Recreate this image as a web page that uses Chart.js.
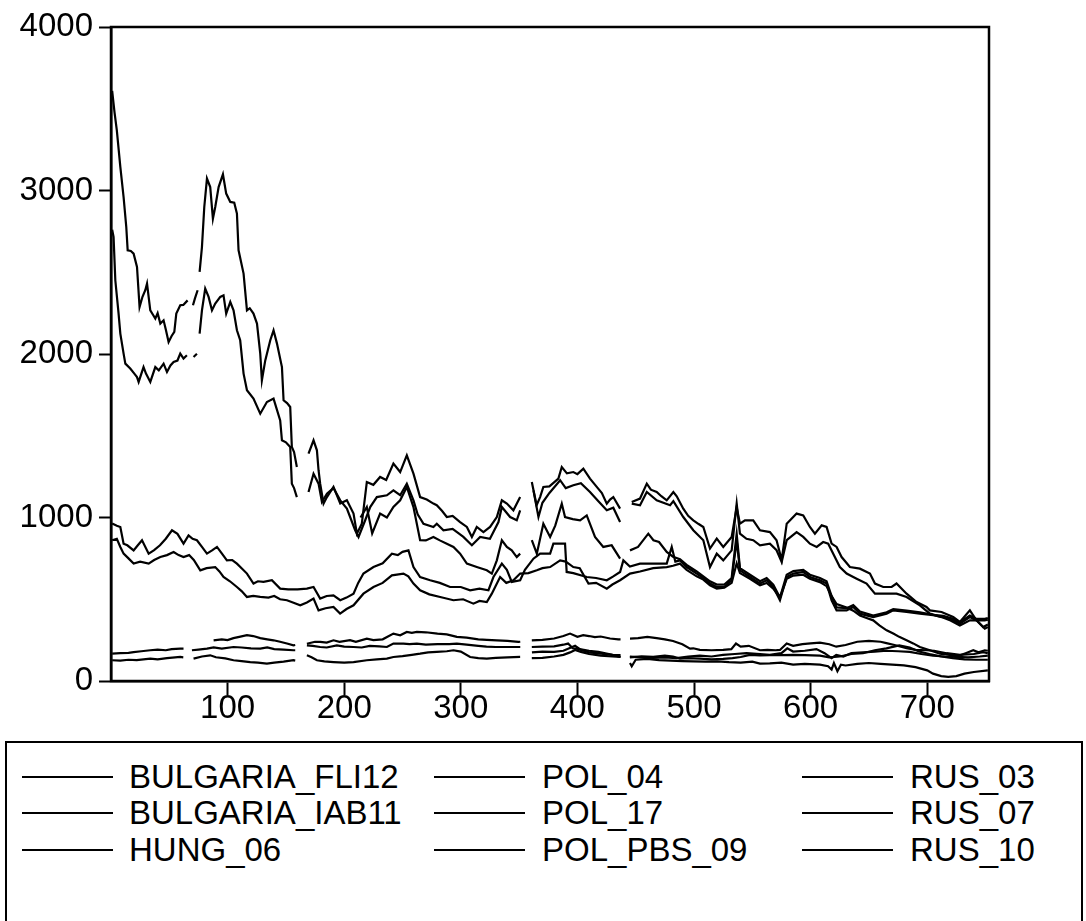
<!DOCTYPE html>
<html>
<head>
<meta charset="utf-8">
<script src="https://cdn.jsdelivr.net/npm/chart.js@4.4.1/dist/chart.umd.min.js"></script>
<style>
  html, body { margin: 0; padding: 0; background: #fff; }
  #wrap { position: relative; width: 1086px; height: 921px; overflow: hidden;
          font-family: "Liberation Sans", Arial, sans-serif; }
  #c { position: absolute; left: 0; top: 0; }
  #legend { position: absolute; left: 5px; top: 741px; width: 1078px; height: 200px;
            border: 2px solid #000; box-sizing: border-box; }
  .item { position: absolute; height: 36px; display: flex; align-items: center;
          font-size: 33px; color: #000; white-space: nowrap; }
  .item .ln { width: 91px; height: 0; border-top: 2px solid #000; }
  .item .tx { position: absolute; }
</style>
</head>
<body>
<div id="wrap">
  <canvas id="c" width="1086" height="730"></canvas>
  <div id="legend"></div>
</div>
<script>
// Observation index (x) and level (y); null marks a break in a series.
const bulgariaFli12 = [[1,3610],[3,3480],[5,3368],[8,3144],[10.8,2960],[13.1,2777],[14.3,2634],[17,2630],[19.4,2614],[22.3,2532],[24.5,2287],[27,2350],[29.4,2390],[30.9,2431],[33.7,2267],[36,2240],[38,2216],[40,2250],[42.3,2186],[45.1,2206],[47,2150],[49.4,2073],[52,2110],[54.3,2135],[56,2247],[59.4,2298],[62,2300],[65.7,2328],[68,null],[70.3,2298],[72,2340],[74.3,2390],[75.2,null],[76,2502],[78,2654],[80,2899],[82.3,3073],[85.1,3021],[87.4,2828],[89.4,2899],[92.3,3021],[96,3099],[98.8,2981],[102.3,2930],[105.7,2925],[108,2859],[109.4,2634],[113.7,2492],[116.6,2267],[119,2280],[122.2,2247],[125.2,2186],[128,2002],[129.4,1839],[132.3,1961],[136.6,2084],[139.4,2145],[142.3,2065],[146.6,1920],[148,1717],[151,1700],[153.7,1676],[155.1,1431],[157,1400],[159.4,1309],[164,null],[169.4,1391],[173.7,1472],[176.6,1411],[178,1289],[179.4,1207],[182.3,1085],[185.2,1125],[190.8,1187],[196.6,1085],[202.3,1105],[208,1024],[210.9,901],[215.1,962],[219.4,1217],[225,1200],[230.8,1248],[236,1230],[242.2,1330],[248,1278],[253.7,1380],[259.4,1268],[265.1,1125],[270.8,1110],[276.5,1085],[279.4,1075],[284,1040],[288,1003],[293,1010],[299.4,972],[305.2,942],[309.5,881],[313.7,942],[319.4,911],[325.1,942],[330.9,1003],[335.2,1105],[339.5,1085],[345.1,1044],[350.9,1125],[356,null],[360.9,1217],[365,1075],[368,1125],[370.8,1187],[376,1190],[383.7,1238],[386.6,1309],[391,1270],[396.5,1278],[400,1265],[405.1,1299],[410.8,1238],[416.6,1187],[421,1150],[425.2,1085],[428,1110],[430.8,1125],[436.6,1054],[441,null],[446.6,1095],[453.7,1116],[459.5,1207],[463,1170],[468,1156],[472,1130],[476.6,1105],[482.3,1156],[485.2,1130],[490.8,1054],[495,1010],[499.4,983],[504,960],[508,942],[513.7,810],[519.5,871],[525.1,820],[532.3,881],[536.6,1064],[539.4,962],[543.7,983],[550.8,983],[556.6,922],[565.1,911],[570.8,861],[575.2,740],[579.5,962],[588,1024],[593.7,1013],[599.4,942],[603.7,901],[609.5,952],[613.7,942],[618,840],[622.3,820],[626.6,758],[633.7,697],[642.3,687],[650.9,657],[655.2,596],[662.3,575],[669.5,575],[673.7,596],[682.3,534],[690.9,483],[699.4,453],[702.3,432],[712.3,422],[722.3,391],[728,361],[736.6,432],[742.3,371],[748,330],[752,345]];

const bulgariaIab11 = [[1,2760],[2.2,2716],[3.7,2451],[6.5,2247],[8,2125],[10.8,2002],[12.3,1941],[16.5,1911],[20,1880],[22.3,1859],[23.7,1829],[27.9,1920],[30,1880],[33.7,1829],[38,1920],[41,1900],[45.1,1941],[48,1890],[51,1930],[53.7,1951],[57,1960],[59.4,2002],[62.2,1972],[65.1,1992],[68,null],[70.8,1982],[73.7,2002],[75,null],[76,2125],[78,2267],[80.8,2400],[83.7,2349],[86.6,2267],[89.4,2308],[93.7,2349],[96.5,2359],[98.8,2247],[102.3,2318],[105.1,2267],[108,2145],[110.8,2084],[113.7,1880],[116.6,1778],[122.2,1727],[128,1635],[133.7,1706],[139.4,1727],[145.1,1594],[146.6,1472],[150,1460],[153.7,1431],[155.1,1207],[157,1180],[159.4,1125],[164,null],[169.4,1156],[173.7,1268],[178,1207],[180.9,1095],[185.2,1146],[190.8,1180],[196.6,1105],[202.3,1054],[209.4,922],[212.3,881],[218,983],[222.3,1064],[228,1125],[236.6,1136],[242.2,1166],[248,1136],[253.7,1207],[259.4,1105],[263,1020],[268,962],[276.5,942],[279.4,962],[285.1,922],[293,930],[302.2,881],[309.5,830],[316.6,881],[325,870],[332.3,972],[335.2,1064],[342.3,1003],[348,983],[350.9,1044],[356,null],[362.3,1166],[366.6,1003],[370,1090],[376,1150],[385.2,1228],[390,1180],[396.5,1197],[403,1210],[410.8,1156],[418,1100],[425.2,1044],[430.8,1060],[436.6,972],[441,null],[446.6,1085],[453.7,1075],[459.5,1156],[468,1105],[479.5,1075],[482.3,1100],[490.8,1003],[499.4,922],[508,861],[513.7,697],[519.5,779],[525.1,738],[532.3,799],[536.6,1085],[539.4,901],[545,870],[550.8,861],[556.6,830],[565.1,840],[570.8,800],[575.2,728],[579.5,861],[588,911],[593.7,881],[599.4,840],[605.2,820],[610.8,850],[615.1,840],[619.4,779],[625.1,697],[630.9,657],[639.5,626],[648,596],[655.2,534],[662.3,534],[673.7,534],[682.3,514],[693.7,463],[702.3,412],[712.3,391],[720,370],[728,340],[736.6,371],[742.3,371],[749.4,320],[752,330]];

const hung06 = [[88,249],[95,255],[100,250],[105,262],[110,270],[116.6,280],[122,275],[128,262],[134,255],[139.4,249],[145,240],[150.9,229],[156.5,218],[158,220],[163,null],[168,228],[175,240],[179.4,239],[185,235],[190.8,249],[196,240],[205,250],[210,240],[219.4,259],[225,250],[233,255],[242.2,290],[248,280],[253.7,300],[258,295],[262.3,300],[270,298],[280,290],[288,285],[296.6,270],[305,265],[315,255],[322.3,252],[330.9,249],[340,245],[349.4,239],[351,240],[356,null],[360.9,249],[370,252],[380,260],[388,275],[393.7,290],[400,270],[405,280],[410,275],[415,268],[420,272],[428,260],[435.1,255],[437,255],[441,null],[445.1,259],[452,262],[460,270],[468,262],[475,255],[482,245],[490,225],[496.6,198],[499.4,200],[505,190],[515,188],[525,190],[532,195],[536,229],[540,210],[547,215],[556.6,188],[563,190],[570,188],[573.7,190],[579.5,229],[585,215],[593,225],[600,230],[608,235],[616,225],[622,210],[630,220],[640,240],[650,245],[660,240],[665,232],[672,220],[682.3,200],[690,190],[699.4,188],[706,185],[716.6,170],[728,160],[740,165],[748,177],[752,170]];

const pol04 = [[1,963],[5,950],[8,942],[10.8,840],[14,830],[19.4,799],[23,830],[26.6,861],[32.3,779],[37,800],[42,830],[47,870],[52.3,922],[57,900],[62.2,840],[66.5,891],[70,870],[73.7,861],[78,820],[82.3,779],[87,800],[90.9,820],[95,780],[99.4,738],[104,740],[108,718],[112,690],[116.6,657],[122.2,596],[126,610],[130.8,606],[138,616],[145.1,565],[152,560],[160,560],[168,565],[173.7,575],[179.4,504],[185,520],[190.8,524],[196.6,494],[202,510],[208,534],[212,600],[216.5,657],[225.1,697],[233,720],[240.9,779],[246,770],[250,790],[255.1,799],[259.4,697],[265.1,636],[273.7,616],[282,600],[290.8,575],[300,575],[308,555],[316,565],[323.7,555],[328,636],[335.2,718],[339.5,680],[343.7,606],[350.9,616],[355,680],[362.3,748],[368,779],[376.6,779],[379.4,840],[389.4,840],[390.8,667],[396.5,660],[408,636],[416,630],[425.2,616],[430.8,640],[436.6,667],[439.4,738],[445,700],[453.7,718],[465,718],[476.6,718],[480.9,820],[484,730],[488,738],[493.7,697],[502.3,657],[508,630],[513.7,596],[519.5,575],[526,575],[532.3,616],[536.6,860],[539.4,677],[548,636],[556.6,596],[562.3,616],[568,575],[573.7,494],[579.5,636],[585.2,657],[593.7,667],[599.4,636],[608,616],[613.7,596],[618,494],[622.3,432],[630.9,432],[636.6,453],[642.3,412],[653.7,391],[665.2,412],[670.9,432],[682.3,422],[693.7,412],[705.1,402],[713.7,391],[722.3,371],[728,351],[736.6,391],[742.3,371],[749.4,371],[752,375]];

const pol17 = [[1,861],[5,870],[8,820],[10.8,779],[15,750],[19.4,718],[25,730],[32.3,718],[37,740],[42.3,758],[48,770],[53.7,789],[58,770],[62.2,758],[67,770],[71,740],[76.6,677],[82,690],[89.4,697],[93,670],[96.5,636],[102,610],[108,575],[112,550],[116.6,514],[122,520],[128,514],[135,510],[140,520],[145,500],[150.9,494],[156,480],[162.3,463],[168,480],[173.7,504],[178,432],[184,445],[190.8,453],[196.5,412],[202,440],[208,463],[216.5,534],[225.1,575],[233,600],[240.9,646],[250.8,657],[255,640],[259.4,596],[265.1,555],[273,530],[282.3,514],[293.7,494],[302,500],[310.8,473],[316,490],[322.3,483],[326.6,534],[333.7,636],[339,600],[345.1,616],[350.9,657],[358,660],[365.2,677],[370,690],[376.6,697],[385.2,738],[390,730],[396.5,697],[402,690],[409.5,596],[416,600],[425.2,565],[430,590],[436.6,616],[445.1,657],[453.7,670],[465,690],[476.6,697],[482,705],[488,718],[493.7,680],[502.3,640],[508,620],[513.7,585],[519.5,565],[526,570],[532.3,600],[536.6,720],[539.4,660],[548,625],[556.6,585],[562.3,600],[568,565],[573.7,510],[579.5,625],[585.2,645],[593.7,650],[599.4,625],[608,605],[613.7,580],[618,520],[622.3,470],[630.9,450],[636.6,430],[642.3,400],[648,385],[653.7,371],[659,340],[665.2,310],[670.9,290],[676,270],[682.3,249],[688,230],[693.7,208],[702.3,188],[710.9,167],[719,160],[728,157],[733,170],[739.5,188],[744,175],[749.4,188],[752,185]];

const polPbs09 = [[214,1000],[219.4,1064],[224,903],[230.8,1024],[236.6,1000],[242.2,1064],[248,1105],[253.7,1187],[259.4,1064],[265.1,861],[270,860],[276.5,881],[282,860],[288,840],[293.7,820],[299.4,779],[305.2,718],[313.7,697],[322.3,677],[326.6,657],[330.9,738],[335.2,861],[339.5,820],[343.7,799],[348,758],[350.9,779],[356,null],[360.9,861],[365.2,779],[370.8,962],[376.6,881],[381,950],[386.6,1085],[389.4,1003],[396,990],[402.3,983],[408,1013],[415.1,881],[422.2,820],[429.4,830],[436.6,748],[441,null],[445.1,799],[452,820],[460.8,901],[465.2,861],[470,850],[476.6,789],[482,760],[488,745],[493.7,710],[502.3,670],[508,640],[513.7,610],[519.5,590],[526,590],[532.3,630],[536.6,900],[539.4,690],[548,650],[556.6,610],[562.3,630],[568,590],[573.7,510],[579.5,650],[585.2,672],[593.7,680],[599.4,650],[608,630],[613.7,610],[618,520],[622.3,450],[630.9,445],[636.6,465],[642.3,425],[653.7,400],[665.2,420],[670.9,440],[682.3,430],[693.7,420],[705.1,405],[713.7,398],[722.3,380],[728,360],[736.6,400],[742.3,380],[749.4,380],[752,385]];

const rus03 = [[1,167],[8,170],[15,172],[19.4,177],[26,182],[33.7,188],[40,192],[47,188],[52,195],[59.4,198],[62.2,198],[65,null],[69.4,188],[75,192],[82.3,198],[88,205],[95,198],[105.1,208],[112,205],[120,200],[128,198],[134,205],[140,195],[148,192],[156.5,188],[158,188],[163,null],[168,218],[173,215],[179.4,208],[185,205],[193.7,218],[200,210],[208,208],[215,205],[222,215],[230,212],[236.6,208],[242.2,229],[250.8,229],[256,225],[262.3,229],[270,222],[280,225],[290,225],[296.6,229],[305,222],[315,215],[322,210],[330,208],[340,208],[351,208],[356,null],[360.9,208],[370,210],[380,212],[388,222],[392,229],[396,200],[402,195],[410,185],[418,178],[425,168],[430,160],[437,147],[441,null],[445,145],[455,150],[465,148],[475,155],[482,150],[488,137],[495,140],[505,137],[515,132],[525,135],[533,140],[540,147],[548,160],[556.6,157],[565,158],[575,158],[585,160],[595,158],[608,155],[616,145],[625,150],[635,165],[645,170],[655,188],[665,200],[676,218],[685,205],[693,180],[702,165],[712,150],[722,140],[732,132],[742,130],[752,130]];

const rus07 = [[1,127],[8,125],[15,130],[22,128],[33.7,137],[40,132],[48,140],[55,145],[59.4,147],[62,145],[65,null],[70.8,137],[78,150],[85.1,157],[90,145],[98,138],[105.1,127],[112,122],[119.4,116],[126,112],[133.7,106],[140,112],[148,118],[156.5,127],[158,125],[163,null],[168,157],[172,145],[176.6,127],[183,120],[190.8,116],[200,112],[208,116],[219.4,127],[228,132],[236.6,137],[242.2,147],[250,152],[258,160],[265.1,167],[272,175],[279.4,178],[288,182],[293.7,188],[300,180],[308,147],[315,140],[322.3,137],[330,142],[340,145],[350.9,147],[356,null],[360.9,140],[370,142],[380,150],[388,160],[393.7,175],[398,190],[403,178],[410,165],[420,155],[430,150],[437,148],[441,null],[445.1,110],[446.6,90],[450,130],[460,135],[470,128],[480,125],[490,122],[499.4,120],[510,118],[520,120],[530,115],[540,112],[550,118],[556.6,106],[565,108],[575,112],[585,100],[595,105],[608,100],[615,90],[618,70],[620,110],[623,60],[626,100],[630,95],[640,105],[650,110],[660,105],[670,100],[680,95],[690,85],[700,65],[705,45],[712,30],[718,25],[725,30],[732,45],[740,55],[752,65]];

const rus10 = [[361,175],[370,180],[380,178],[388,185],[393,200],[398,215],[403,190],[410,175],[420,168],[430,160],[437,158],[441,null],[445,150],[455,145],[465,142],[475,145],[485,140],[495,150],[505,155],[515,150],[525,160],[535,165],[545,170],[556.6,165],[565,160],[575,170],[580,200],[585,180],[595,185],[605,195],[612,170],[618,140],[622,160],[628,150],[635,170],[645,175],[655,180],[665,185],[675,182],[685,178],[695,165],[705,155],[715,150],[725,148],[735,145],[745,150],[752,155]];

const seriesNames = ['BULGARIA_FLI12','BULGARIA_IAB11','HUNG_06','POL_04','POL_17','POL_PBS_09','RUS_03','RUS_07','RUS_10'];
const seriesValues = [bulgariaFli12, bulgariaIab11, hung06, pol04, pol17, polPbs09, rus03, rus07, rus10];

const xTicks = [100,200,300,400,500,600,700];
const yTicks = [0,1000,2000,3000,4000];

const FONT = '"Liberation Sans", Arial, sans-serif';

// Black frame around the plotting area
const frame = {
  id: 'frame',
  afterDraw(chart) {
    const a = chart.chartArea, c = chart.ctx;
    c.save();
    c.strokeStyle = '#000';
    c.lineWidth = 2.5;
    c.strokeRect(a.left, a.top, a.right - a.left, a.bottom - a.top);
    c.restore();
  }
};

new Chart(document.getElementById('c'), {
  type: 'line',
  data: {
    datasets: seriesNames.map((name, i) => ({
      label: name,
      data: seriesValues[i].map(p => ({ x: p[0], y: p[1] })),
      borderColor: '#000',
      borderWidth: 2.2,
      pointRadius: 0,
      fill: false,
      tension: 0,
      spanGaps: false
    }))
  },
  options: {
    responsive: false,
    animation: false,
    devicePixelRatio: 1,
    layout: { padding: { top: 27, right: 97, left: 0, bottom: 0 } },
    plugins: { legend: { display: false }, tooltip: { enabled: false } },
    scales: {
      x: {
        type: 'linear', min: 0, max: 753,
        border: { display: true, color: '#000', width: 2.5 },
        grid: { display: true, drawOnChartArea: false, drawTicks: true, tickLength: 14,
                tickWidth: 2, tickColor: '#000' },
        afterBuildTicks: s => { s.ticks = xTicks.map(v => ({ value: v })); },
        ticks: { autoSkip: false, maxRotation: 0, color: '#000', padding: -6,
                 font: { family: FONT, size: 33 }, callback: v => String(v) },
        afterFit: s => { s.height = 49; }
      },
      y: {
        min: 0, max: 4000,
        border: { display: true, color: '#000', width: 2.5 },
        grid: { display: true, drawOnChartArea: false, drawTicks: true, tickLength: 12,
                tickWidth: 2, tickColor: '#000' },
        afterBuildTicks: s => { s.ticks = yTicks.map(v => ({ value: v })); },
        ticks: { color: '#000', padding: 6, font: { family: FONT, size: 33 },
                 callback: v => String(v) },
        afterFit: s => { s.width = 111; }
      }
    }
  },
  plugins: [frame]
});

// Legend: three columns, filled column by column
const legend = document.getElementById('legend');
const colLine = [15, 427, 795];
const colText = [122, 535, 903];
const rowMid = [34, 70, 107];
seriesNames.forEach((name, i) => {
  const col = Math.floor(i / 3), row = i % 3;
  const it = document.createElement('div');
  it.className = 'item';
  it.style.left = colLine[col] + 'px';
  it.style.top = (rowMid[row] - 18) + 'px';
  const ln = document.createElement('span');
  ln.className = 'ln';
  const tx = document.createElement('span');
  tx.className = 'tx';
  tx.style.left = (colText[col] - colLine[col]) + 'px';
  tx.textContent = name;
  it.appendChild(ln);
  it.appendChild(tx);
  legend.appendChild(it);
});
</script>
</body>
</html>
